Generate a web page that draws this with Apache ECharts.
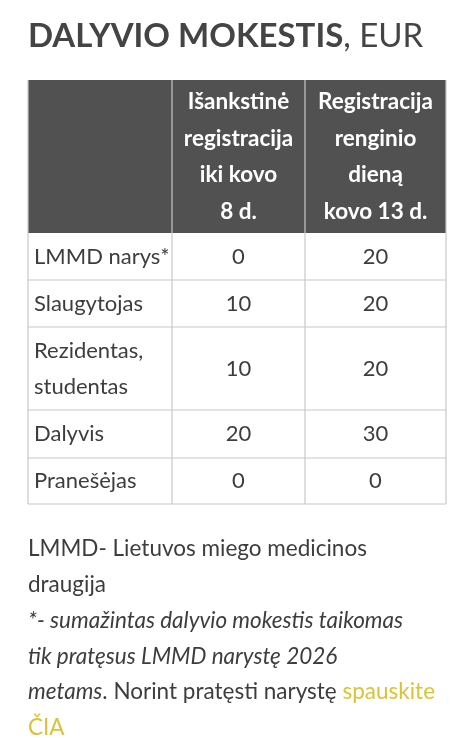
<!DOCTYPE html>
<html><head><meta charset="utf-8">
<script src="https://cdn.jsdelivr.net/npm/echarts@6/dist/echarts.min.js"></script>
<style>html,body{margin:0;padding:0;background:#fff}#c{width:474px;height:738px}</style>
</head><body><div id="c"></div>
<script>
const title = 'DALYVIO MOKESTIS';
const titleUnit = ', EUR';
const headers = ['', 'Išankstinė\nregistracija\niki kovo\n8 d.', 'Registracija\nrenginio\ndieną\nkovo 13 d.'];
const rowLabels = ['LMMD narys*', 'Slaugytojas', 'Rezidentas,\nstudentas', 'Dalyvis', 'Pranešėjas'];
const earlyFee = [0, 10, 10, 20, 0];
const onsiteFee = [20, 20, 20, 30, 0];

const FONT = 'Lato, "Open Sans", sans-serif';
const colX = [28, 172, 305, 446];
const headerTop = 80, headerH = 153;
const rowH = [47, 47, 83, 48, 46];
const els = [];
els.push({type:'text', left:28, top:20, style:{rich:{b:{font:'bold 33px '+FONT, fill:'#444'}, n:{font:'33px '+FONT, fill:'#444'}},
  text:'{b|'+title+'}{n|'+titleUnit+'}'}});
els.push({type:'rect', shape:{x:colX[0], y:headerTop, width:colX[3]-colX[0], height:headerH}, style:{fill:'#515151'}});
for (let c = 0; c < 3; c++) {
  if (headers[c]) els.push({type:'text', x:(colX[c]+colX[c+1])/2, y:headerTop+headerH/2,
    style:{text:headers[c], font:'bold 22.5px '+FONT, fill:'#fff', align:'center', verticalAlign:'middle', lineHeight:36.5}});
}
let y = headerTop + headerH;
const cells = rowLabels.map((l,i)=>[l, String(earlyFee[i]), String(onsiteFee[i])]);
cells.forEach((row, r) => {
  const h = rowH[r];
  row.forEach((txt, c) => {
    els.push({type:'text', x: c===0 ? colX[0]+6 : (colX[c]+colX[c+1])/2, y: y+h/2,
      style:{text:txt, font:'22px '+FONT, fill:'#3d3d3d', align: c===0?'left':'center', verticalAlign:'middle', lineHeight:36}});
  });
  y += h;
  els.push({type:'line', shape:{x1:colX[0], y1:y, x2:colX[3], y2:y}, style:{stroke:'#c8c8c8', lineWidth:1.2}});
});
const bottom = y;
colX.forEach(x => els.push({type:'line', shape:{x1:x, y1:headerTop, x2:x, y2:bottom}, style:{stroke:'#c8c8c8', lineWidth:1.2}}));
const fy = 549, lh = 35.8;
const fs = '22.5px '+FONT, fi = 'italic 22.5px '+FONT;
els.push({type:'text', left:28, y:fy, style:{text:'LMMD- Lietuvos miego medicinos', font:fs, fill:'#3d3d3d', verticalAlign:'middle'}});
els.push({type:'text', left:28, y:fy+lh, style:{text:'draugija', font:fs, fill:'#3d3d3d', verticalAlign:'middle'}});
els.push({type:'text', left:28, y:fy+2*lh, style:{text:'*- sumažintas dalyvio mokestis taikomas', font:fi, fill:'#3d3d3d', verticalAlign:'middle'}});
els.push({type:'text', left:28, y:fy+3*lh, style:{text:'tik pratęsus LMMD narystę 2026', font:fi, fill:'#3d3d3d', verticalAlign:'middle'}});
els.push({type:'text', left:28, y:fy+4*lh, style:{rich:{i:{font:fi, fill:'#3d3d3d'}, n:{font:fs, fill:'#3d3d3d'}, l:{font:fs, fill:'#d8c33a'}},
  text:'{i|metams}{n|. Norint pratęsti narystę }{l|spauskite}', verticalAlign:'middle'}});
els.push({type:'text', left:28, y:fy+5*lh, style:{text:'ČIA', font:fs, fill:'#d8c33a', verticalAlign:'middle'}});

const chart = echarts.init(document.getElementById('c'));
chart.setOption({animation:false, graphic:{elements:els}});
</script></body></html>
